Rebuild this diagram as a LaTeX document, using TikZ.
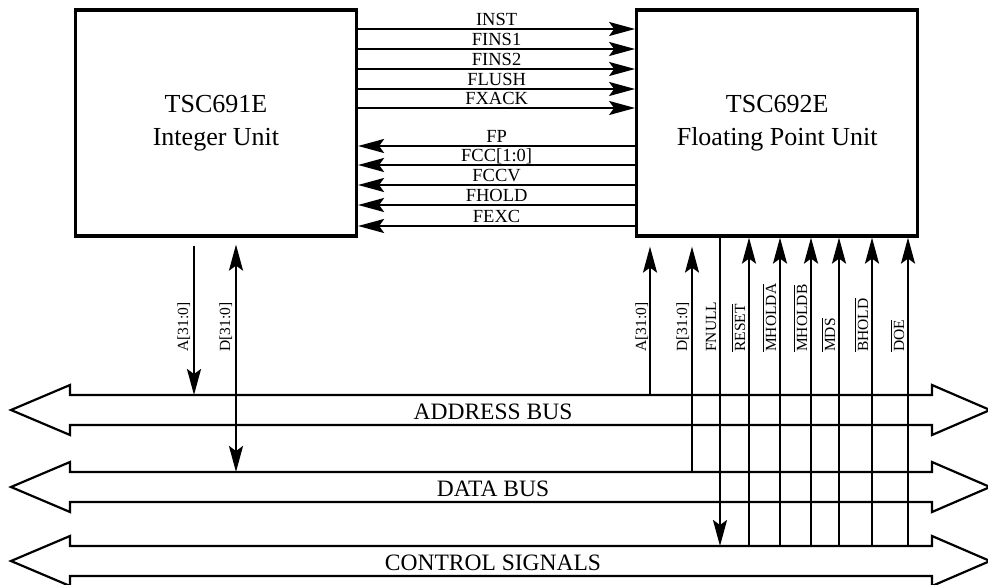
\documentclass[tikz,border=0pt]{standalone}
\usepackage{amsmath}
\usepackage{fontspec}
\setmainfont{Liberation Serif}
\usetikzlibrary{arrows.meta,positioning}
\newcommand{\ovl}[1]{$\overline{\mbox{#1}}$}
\tikzset{
  unit/.style={draw, line width=3.2pt, minimum width=281pt, minimum height=226pt,
               align=center, font=\fontsize{26}{33}\selectfont},
  sig/.style={line width=2.3pt},
  slab/.style={midway, anchor=base, yshift=3pt, inner sep=0pt,
               font=\fontsize{18.5}{20}\selectfont},
  vlab/.style={rotate=90, anchor=base west, inner sep=0pt,
               font=\fontsize{15.5}{17}\selectfont},
  bus/.style={line width=2.2pt, line join=miter},
  buslab/.style={anchor=base, inner sep=0pt, font=\fontsize{23.5}{26}\selectfont},
  >={Stealth[length=26pt, width=14pt, inset=5pt]}
}

\begin{document}
\begin{tikzpicture}[x=1pt, y=-1pt]
  \useasboundingbox (0,0) rectangle (988,585);
  \node[unit] (iu) at (216,123) {TSC691E\\Integer Unit};
  \node[unit, right=277pt of iu] (fpu) {TSC692E\\Floating Point Unit};
  % IU -> FPU
  \foreach \yy/\txt [count=\i] in {29/INST,49/FINS1,69/FINS2,89/FLUSH,108/FXACK}
    \draw[sig,->] (iu.east |- 0,\yy) -- node[slab] (in\i) {\txt} (fpu.west |- 0,\yy);
  % FPU -> IU
  \foreach \yy/\txt [count=\i] in {146/FP,165/{FCC[1:0]},185/FCCV,205/FHOLD,226/FEXC}
    \draw[sig,->] (fpu.west |- 0,\yy) -- node[slab] (out\i) {\txt} (iu.east |- 0,\yy);
  % buses
  \foreach \yt/\name/\txt in {395/abus/ADDRESS BUS,472/dbus/DATA BUS,546/cbus/CONTROL SIGNALS}{
    \draw[bus] (11,\yt+15) -- (70,\yt-10) -- (70,\yt) -- (932,\yt) -- (932,\yt-10)
      -- (990,\yt+15) -- (932,\yt+40) -- (932,\yt+30) -- (70,\yt+30) -- (70,\yt+40) -- cycle;
    \coordinate (\name top) at (0,\yt);
    \node[buslab] (\name) at (493,\yt+24) {\txt};
  }
  % integer unit bus lines
  \draw[sig,->,shorten <=8pt] (iu.south -| 194,0) -- (abustop -| 194,0);
  \draw[sig,<->,shorten <=7pt] (iu.south -| 236,0) -- (dbustop -| 236,0);
  \node[vlab] (ia) at (188,352) {A[31:0]};
  \node[vlab] (id) at (230,352) {D[31:0]};
  % fpu bus lines
  \draw[sig,->,shorten >=9pt] (abustop -| 650,0) -- (fpu.south -| 650,0);
  \draw[sig,->,shorten >=9pt] (dbustop -| 692,0) -- (fpu.south -| 692,0);
  \draw[sig,->] (fpu.south -| 720,0) -- (cbustop -| 720,0);
  \node[vlab] (fa) at (646,352) {A[31:0]};
  \node[vlab] (fd) at (687,352) {D[31:0]};
  \node[vlab] (fnull) at (716,352) {FNULL};
  \foreach \x/\txt [count=\i] in {749/RESET,780/MHOLDA,811/MHOLDB,839/MDS,872/BHOLD,908/DOE}{
    \draw[sig,->] (cbustop -| \x,0) -- (fpu.south -| \x,0);
    \node[vlab] (ctl\i) at (\x-4,352) {\ovl{\txt}};
  }
\end{tikzpicture}
\end{document}
